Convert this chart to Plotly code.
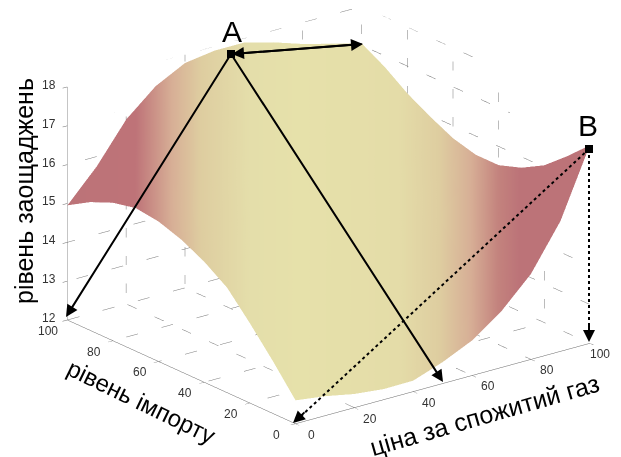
import plotly.graph_objects as go

# the page keeps an 8px body margin, the part of the figure past the window is empty
W, H = 621, 457
MARGIN = 8

price = [0, 10, 20, 30, 40, 50, 60, 70, 80, 90, 100]
imports = [0, 10, 20, 30, 40, 50, 60, 70, 80, 90, 100]
level_ticks = [0, 20, 40, 60, 80, 100]
saving_ticks = [12, 13, 14, 15, 16, 17, 18]

# savings level, one row per import level
savings = [
    [12.60, 12.50, 12.35, 12.27, 12.28, 12.55, 12.90, 13.45, 14.20, 15.35, 17.10],
    [13.35, 13.23, 13.09, 12.98, 12.92, 13.07, 13.28, 13.65, 14.19, 15.10, 16.55],
    [14.05, 13.93, 13.81, 13.67, 13.55, 13.59, 13.67, 13.87, 14.21, 14.89, 16.05],
    [14.70, 14.59, 14.51, 14.38, 14.22, 14.17, 14.14, 14.19, 14.36, 14.83, 15.72],
    [15.10, 15.05, 15.05, 14.94, 14.79, 14.69, 14.59, 14.53, 14.56, 14.86, 15.52],
    [15.40, 15.43, 15.54, 15.51, 15.39, 15.26, 15.12, 14.97, 14.91, 15.06, 15.52],
    [15.60, 15.74, 15.98, 16.05, 15.99, 15.86, 15.70, 15.50, 15.36, 15.40, 15.68],
    [15.68, 15.96, 16.36, 16.54, 16.56, 16.47, 16.32, 16.09, 15.89, 15.84, 15.97],
    [15.55, 15.99, 16.57, 16.89, 17.03, 16.99, 16.87, 16.64, 16.41, 16.29, 16.30],
    [15.30, 15.92, 16.71, 17.19, 17.46, 17.49, 17.43, 17.22, 16.97, 16.82, 16.72],
    [14.95, 15.75, 16.75, 17.40, 17.79, 17.90, 17.90, 17.70, 17.45, 17.25, 17.05],
]

# colour value of the surface, same shape as savings
shade = [
    [295, 325, 354, 384, 413, 443, 472, 502, 531, 561, 590],
    [272, 302, 331, 361, 390, 420, 449, 479, 508, 538, 567],
    [249, 279, 308, 338, 367, 397, 426, 456, 485, 515, 544],
    [226, 256, 285, 315, 344, 374, 403, 433, 462, 492, 521],
    [203, 233, 262, 292, 321, 351, 380, 410, 439, 469, 498],
    [180, 210, 239, 269, 298, 328, 357, 387, 416, 446, 475],
    [158, 188, 217, 247, 276, 306, 335, 365, 394, 424, 453],
    [135, 165, 194, 224, 253, 283, 312, 342, 371, 401, 430],
    [112, 142, 171, 201, 230, 260, 289, 319, 348, 378, 407],
    [89, 119, 148, 178, 207, 237, 266, 296, 325, 355, 384],
    [66, 96, 125, 155, 184, 214, 243, 273, 302, 332, 361],
]

colors = [
    [0.00, "rgb(188,115,120)"],
    [0.13, "rgb(190,115,120)"],
    [0.20, "rgb(215,175,150)"],
    [0.256, "rgb(222,205,160)"],
    [0.35, "rgb(228,222,170)"],
    [0.447, "rgb(230,225,170)"],
    [0.637, "rgb(228,220,168)"],
    [0.714, "rgb(222,205,160)"],
    [0.771, "rgb(215,175,150)"],
    [0.828, "rgb(195,130,125)"],
    [0.866, "rgb(188,115,120)"],
    [1.00, "rgb(188,115,120)"],
]

# dotted grid as (x0, y0, z0, x1, y1, z1)
grid = [
    # floor
    (20, 0, 12, 20, 100, 12), (40, 0, 12, 40, 100, 12), (60, 0, 12, 60, 100, 12), (80, 0, 12, 80, 100, 12),
    (0, 20, 12, 100, 20, 12), (0, 40, 12, 100, 40, 12), (0, 60, 12, 100, 60, 12), (0, 80, 12, 100, 80, 12),
    (0, 100, 12, 100, 100, 12), (100, 0, 12, 100, 100, 12),
    # wall at the back left
    (0, 100, 13, 100, 100, 13), (0, 100, 14, 100, 100, 14), (0, 100, 16, 10, 100, 16),
    (16, 100, 17, 23, 100, 17), (32, 100, 18, 100, 100, 18),
    (20, 100, 12, 20, 100, 17.2), (40, 100, 12, 40, 100, 18), (80, 100, 12, 80, 100, 18),
    (100, 100, 12, 100, 100, 18),
    # wall at the back right
    (100, 0, 13, 100, 100, 13), (100, 0, 14, 100, 100, 14), (100, 22, 16, 100, 100, 16),
    (100, 35, 17, 100, 100, 17), (100, 48, 18, 100, 100, 18),
    (100, 80, 12, 100, 80, 18), (100, 60, 12, 100, 60, 18), (100, 40, 12, 100, 40, 17.5),
    (100, 20, 12, 100, 20, 13.8),
]

grid_x, grid_y, grid_z = [], [], []
for x0, y0, z0, x1, y1, z1 in grid:
    grid_x += [x0, x1, None]
    grid_y += [y0, y1, None]
    grid_z += [z0, z1, None]

fig = go.Figure()
fig.add_trace(go.Surface(
    x=price, y=imports, z=savings, surfacecolor=shade,
    colorscale=colors, cmin=66, cmax=590, showscale=False,
    lighting=dict(ambient=1, diffuse=0, specular=0, fresnel=0, roughness=1),
    hoverinfo="skip",
))
fig.add_trace(go.Scatter3d(
    x=grid_x, y=grid_y, z=grid_z, mode="lines",
    line=dict(color="#777777", width=1, dash="dot"),
    hoverinfo="skip", showlegend=False,
))

axis = dict(
    showbackground=False, showgrid=False, zeroline=False, showspikes=False,
    showline=True, linecolor="#666666", linewidth=1,
    ticks="outside", ticklen=6, tickcolor="#666666",
    showticklabels=False,
    title=dict(text=""),
)

# tick labels, kept horizontal like the original
tick_font = dict(family="Liberation Sans", size=12, color="#333333")
tick_labels = []
for v in level_ticks:
    # the last one sits closer, the page cuts anything further right
    shift = 10 if v == 100 else 16
    tick_labels.append(dict(x=v, y=0, z=12, text=str(v), showarrow=False, font=tick_font, xshift=shift, yshift=-11))
    tick_labels.append(dict(x=0, y=v, z=12, text=str(v), showarrow=False, font=tick_font, xshift=-19, yshift=-11))
for v in saving_ticks:
    tick_labels.append(dict(x=0, y=100, z=v, text=str(v), showarrow=False, font=tick_font, xshift=-18, yshift=2))

fig.update_layout(
    width=W, height=H, margin=dict(l=0, r=0, t=0, b=0),
    paper_bgcolor="white", showlegend=False,
    scene=dict(
        domain=dict(x=[0, 1], y=[0, 1]),
        xaxis=dict(axis, range=[0, 100], tickvals=level_ticks),
        yaxis=dict(axis, range=[0, 100], tickvals=level_ticks),
        zaxis=dict(axis, range=[12, 18], tickvals=saving_ticks),
        aspectmode="manual", aspectratio=dict(x=1.63, y=1.63, z=1.09),
        camera=dict(
            projection=dict(type="orthographic"),
            eye=dict(x=-1.8, y=-2.25, z=0.985),
            center=dict(x=-0.035, y=0.027, z=-0.10),
            up=dict(x=0, y=0, z=1),
        ),
        annotations=tick_labels,
    ),
)


def px(x, y):
    return (x - MARGIN) / W, 1 - (y - MARGIN) / H


def label(text, x, y, size, angle=0):
    fx, fy = px(x, y)
    fig.add_annotation(x=fx, y=fy, xref="paper", yref="paper", text=text, showarrow=False,
                       xanchor="center", yanchor="middle", textangle=angle,
                       font=dict(family="Liberation Sans", size=size, color="black"))


def arrow(x0, y0, x1, y1):
    tx, ty = px(x1, y1)
    fig.add_annotation(x=tx, y=ty, ax=x0 - x1, ay=y0 - y1, xref="paper", yref="paper",
                       text="", showarrow=True, arrowhead=2, arrowsize=1.2, arrowwidth=2, arrowcolor="black")


def dotted(x0, y0, x1, y1):
    sx, sy = px(x0, y0)
    tx, ty = px(x1, y1)
    fig.add_shape(type="line", xref="paper", yref="paper", x0=sx, y0=sy, x1=tx, y1=ty,
                  line=dict(color="black", width=2, dash="dot"))


def square(x, y):
    x0, y0 = px(x - 4, y - 4)
    x1, y1 = px(x + 4, y + 4)
    fig.add_shape(type="rect", xref="paper", yref="paper", x0=x0, y0=y0, x1=x1, y1=y1,
                  fillcolor="black", line=dict(width=0))


label("A", 232, 32, 30)
label("B", 588, 125, 30)
label("рівень заощаджень", 24, 191, 25, -90)
label("рівень імпорту", 141, 401, 24, 26)
label("ціна за спожитий газ", 484, 415, 25, -16)

square(231, 54)
square(589, 149)
arrow(231, 54, 66, 317)
arrow(231, 54, 443, 382)
arrow(363, 44, 232, 54)
arrow(232, 54, 363, 44)
dotted(589, 149, 300, 417)
arrow(306, 411, 293, 423)
dotted(589, 149, 589, 325)
arrow(589, 322, 589, 342)

fig.write_html("out.html", default_width="621px", default_height="457px")
